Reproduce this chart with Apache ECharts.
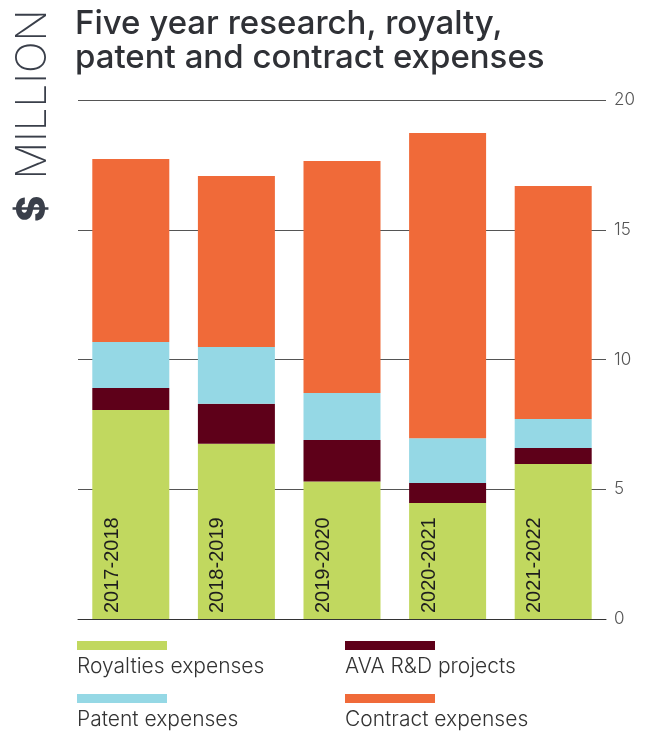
<!DOCTYPE html>
<html>
<head>
<meta charset="utf-8">
<script src="https://cdn.jsdelivr.net/npm/echarts@6/dist/echarts.min.js"></script>
<style>
html,body{margin:0;padding:0;background:#fff;}
#chart{width:646px;height:735px;}
</style>
</head>
<body>
<div id="chart"></div>
<script>
var categories = ['2017-2018', '2018-2019', '2019-2020', '2020-2021', '2021-2022'];
var royalties = [8.05, 6.75, 5.30, 4.47, 5.97];
var avaRD = [0.85, 1.54, 1.60, 0.77, 0.62];
var patent = [1.77, 2.19, 1.81, 1.73, 1.12];
var contract = [7.06, 6.59, 8.94, 11.76, 8.98];
var yTicks = [0, 5, 10, 15, 20];
var seriesNames = ['Royalties expenses', 'AVA R&D projects', 'Patent expenses', 'Contract expenses'];
var seriesColors = ['#C1D85F', '#5E0019', '#95D8E5', '#F06A39'];
var seriesData = [royalties, avaRD, patent, contract];

var chart = echarts.init(document.getElementById('chart'), null, {renderer: 'canvas'});

var series = seriesData.map(function (d, i) {
  var s = {
    name: seriesNames[i],
    type: 'bar',
    stack: 'total',
    barWidth: 77,
    data: d,
    itemStyle: {color: seriesColors[i]},
    emphasis: {disabled: true}
  };
  if (i === 0) {
    s.label = {
      show: true,
      position: ['26%', '100%'],
      rotate: 90,
      align: 'left',
      verticalAlign: 'middle',
      offset: [6, 0],
      fontFamily: 'Liberation Sans, Arial, sans-serif',
      fontSize: 20,
      color: '#1e1e1e',
      formatter: function (p) { return p.name; }
    };
  }
  return s;
});

// legend drawn as swatch above text (2 columns)
var legendPos = [[77, 641], [345, 641], [77, 694], [345, 694]];
var graphics = [];
seriesNames.forEach(function (name, si) {
  var p = legendPos[si];
  graphics.push({type: 'rect', left: p[0], top: p[1], shape: {width: 90, height: 9}, style: {fill: seriesColors[si]}});
  graphics.push({type: 'text', left: p[0], top: p[1] + 15, style: {text: name, font: '300 21px Inter, sans-serif', fill: '#333'}});
});
// vertical "$ MILLION" label
graphics.push({
  type: 'text',
  x: 54, y: 222,
  rotation: Math.PI / 2,
  style: {
    text: '{d|$}{s| }{m|MILLION}',
    rich: {
      d: {font: '800 40px Inter, sans-serif', fill: '#3a3f4a'},
      s: {font: '300 40px Inter, sans-serif', width: 16},
      m: {font: '200 42px Inter, sans-serif', fill: '#3a3f4a'}
    },
    align: 'left',
    verticalAlign: 'bottom'
  }
});

chart.setOption({
  animation: false,
  title: {
    text: 'Five year research, royalty,\npatent and contract expenses',
    left: 70,
    top: 2,
    textStyle: {
      fontFamily: 'Inter, sans-serif',
      fontWeight: 500,
      fontSize: 33,
      lineHeight: 34,
      color: '#2f3136'
    }
  },
  grid: {left: 78, right: 40, top: 100, bottom: 116, containLabel: false},
  xAxis: {
    type: 'category',
    data: categories,
    axisLine: {show: true, lineStyle: {color: '#333', width: 1}},
    axisTick: {show: false},
    axisLabel: {show: false}
  },
  yAxis: {
    type: 'value',
    position: 'right',
    min: yTicks[0],
    max: yTicks[yTicks.length - 1],
    interval: yTicks[1] - yTicks[0],
    axisLine: {show: false},
    axisTick: {show: false},
    splitLine: {show: true, lineStyle: {color: '#555', width: 1}},
    axisLabel: {
      margin: 8,
      fontFamily: 'Inter, sans-serif',
      fontWeight: 300,
      fontSize: 17,
      color: '#555'
    }
  },
  series: series,
  graphic: graphics
});
</script>
</body>
</html>
